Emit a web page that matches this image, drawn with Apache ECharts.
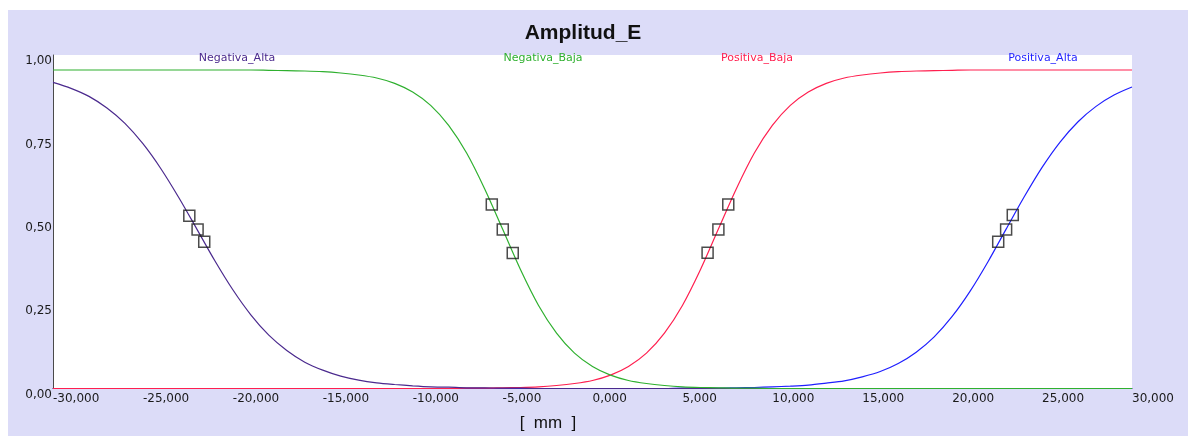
<!DOCTYPE html>
<html>
<head>
<meta charset="utf-8">
<script src="https://cdn.jsdelivr.net/npm/echarts@6/dist/echarts.min.js"></script>
<style>
html,body{margin:0;padding:0;background:#fff;}
#chart{width:1190px;height:436px;}
</style>
</head>
<body>
<div id="chart"></div>
<script>
// x positions (mm)
var xs = [-30000,-29000,-28000,-27000,-26000,-25000,-24000,-23000,-22000,-21000,
  -20000,-19000,-18000,-17000,-16000,-15000,-14000,-13000,-12000,-11000,
  -10000,-9000,-8000,-7000,-6000,-5000,-4000,-3000,-2000,-1000,
  0,1000,2000,3000,4000,5000,6000,7000,8000,9000,
  10000,11000,12000,13000,14000,15000,16000,17000,18000,19000,
  20000,21000,22000,23000,24000,25000,26000,27000,28000,29000,30000];

var negativaAlta = [0.918,0.900,0.876,0.841,0.795,0.734,0.659,0.572,0.478,0.383,
  0.296,0.221,0.160,0.114,0.079,0.055,0.037,0.025,0.017,0.012,
  0.008,0.005,0.004,0.002,0.002,0.001,0.001,0,0,0,
  0,0,0,0,0,0,0,0,0,0,
  0,0,0,0,0,0,0,0,0,0,
  0,0,0,0,0,0,0,0,0,0,0];

var negativaBaja = [0.955,0.955,0.955,0.955,0.955,0.955,0.955,0.955,0.955,0.955,
  0.955,0.955,0.954,0.953,0.952,0.950,0.946,0.940,0.931,0.915,
  0.889,0.849,0.789,0.706,0.599,0.478,0.356,0.249,0.166,0.106,
  0.066,0.040,0.024,0.015,0.009,0.005,0.003,0.002,0.001,0.001,
  0,0,0,0,0,0,0,0,0,0,
  0,0,0,0,0,0,0,0,0,0,0];

var positivaBaja = [0,0,0,0,0,0,0,0,0,0,
  0,0,0,0,0,0,0,0,0,0,
  0,0,0,0.001,0.001,0.002,0.003,0.005,0.009,0.015,
  0.024,0.040,0.066,0.106,0.166,0.249,0.356,0.478,0.599,0.706,
  0.789,0.849,0.889,0.915,0.931,0.940,0.946,0.950,0.952,0.953,
  0.954,0.955,0.955,0.955,0.955,0.955,0.955,0.955,0.955,0.955,0.955];

var positivaAlta = [0,0,0,0,0,0,0,0,0,0,
  0,0,0,0,0,0,0,0,0,0,
  0,0,0,0,0,0,0,0,0,0,
  0,0,0,0,0,0.001,0.001,0.001,0.002,0.003,
  0.005,0.007,0.010,0.016,0.023,0.035,0.051,0.075,0.109,0.155,
  0.216,0.292,0.381,0.478,0.574,0.663,0.739,0.800,0.846,0.880,0.904];

// marker points [x, y]
var markersNegativaAlta = [[-22420,0.518],[-21960,0.477],[-21590,0.440]];
var markersNegativaBaja = [[-5600,0.552],[-4990,0.477],[-4435,0.406]];
var markersPositivaBaja = [[6400,0.407],[7000,0.477],[7550,0.552]];
var markersPositivaAlta = [[22560,0.440],[23000,0.477],[23370,0.520]];

var seriesNames = ['Negativa_Alta','Negativa_Baja','Positiva_Baja','Positiva_Alta'];
var title = 'Amplitud_E';
var axisName = '[  mm  ]';

var colors = {
  'Negativa_Alta':'#4b2a8e',
  'Negativa_Baja':'#2fb02f',
  'Positiva_Baja':'#ff1f4f',
  'Positiva_Alta':'#1f1fff'
};

function pairs(vals){ return xs.map(function(x,i){ return [x, vals[i]]; }); }

var FONT = 'DejaVu Sans';

function lineSeries(name, vals){
  return {
    name:name, type:'line', data:pairs(vals), showSymbol:false, smooth:0.3,
    lineStyle:{color:colors[name], width:1.2}, itemStyle:{color:colors[name]},
    animation:false, z:2
  };
}
function markerSeries(pts){
  return {
    type:'scatter', data:pts, symbol:'rect', symbolSize:11,
    itemStyle:{color:'rgba(0,0,0,0)', borderColor:'#1e1e1e', borderWidth:1.5},
    animation:false, z:5
  };
}

var chart = echarts.init(document.getElementById('chart'), null, {renderer:'canvas'});
chart.setOption({
  backgroundColor:'#ffffff',
  animation:false,
  graphic:[
    {type:'rect', left:8, top:10, shape:{width:1180, height:426}, style:{fill:'#dcdcf8'}, z:-10, silent:true},
    {type:'text', x:583, y:33, style:{text:title, font:'bold 21px "Liberation Sans", Arial, sans-serif', fill:'#111', textAlign:'center', textVerticalAlign:'middle'}, z:10},
    {type:'text', x:548, y:423, style:{text:axisName, font:'17px "Liberation Sans", Arial, sans-serif', fill:'#111', textAlign:'center', textVerticalAlign:'middle'}, z:10},
    {type:'text', x:237, y:58, style:{text:seriesNames[0], font:'11px "DejaVu Sans", sans-serif', fill:colors['Negativa_Alta'], textAlign:'center', textVerticalAlign:'middle'}, z:10},
    {type:'text', x:543, y:58, style:{text:seriesNames[1], font:'11px "DejaVu Sans", sans-serif', fill:colors['Negativa_Baja'], textAlign:'center', textVerticalAlign:'middle'}, z:10},
    {type:'text', x:757, y:58, style:{text:seriesNames[2], font:'11px "DejaVu Sans", sans-serif', fill:colors['Positiva_Baja'], textAlign:'center', textVerticalAlign:'middle'}, z:10},
    {type:'text', x:1043, y:58, style:{text:seriesNames[3], font:'11px "DejaVu Sans", sans-serif', fill:colors['Positiva_Alta'], textAlign:'center', textVerticalAlign:'middle'}, z:10}
  ],
  grid:{left:53, right:58, top:55, bottom:47.5, show:true, backgroundColor:'#ffffff', borderWidth:0},
  xAxis:{
    type:'value', min:-30000, max:30000, interval:5000,
    axisLine:{show:true, onZero:false, lineStyle:{color:'#14146a', width:1}},
    axisTick:{show:false},
    splitLine:{show:false},
    axisLabel:{
      align:'left', margin:4, color:'#1a1a1a', fontSize:12, fontFamily:FONT,
      showMinLabel:true, showMaxLabel:true,
      formatter:function(v){ return (v/1000).toFixed(3).replace('.',','); }
    }
  },
  yAxis:{
    type:'value', min:0, max:1, interval:0.25,
    axisLine:{show:true, onZero:false, lineStyle:{color:'#4a4a4a', width:1}},
    axisTick:{show:false},
    splitLine:{show:false},
    axisLabel:{
      align:'right', verticalAlign:'top', margin:1, color:'#1a1a1a', fontSize:12, fontFamily:FONT,
      formatter:function(v){ return v.toFixed(2).replace('.',','); }
    }
  },
  series:[
    lineSeries('Positiva_Alta', positivaAlta),
    lineSeries('Positiva_Baja', positivaBaja),
    lineSeries('Negativa_Alta', negativaAlta),
    lineSeries('Negativa_Baja', negativaBaja),
    markerSeries(markersNegativaAlta),
    markerSeries(markersNegativaBaja),
    markerSeries(markersPositivaBaja),
    markerSeries(markersPositivaAlta)
  ]
});
</script>
</body>
</html>
